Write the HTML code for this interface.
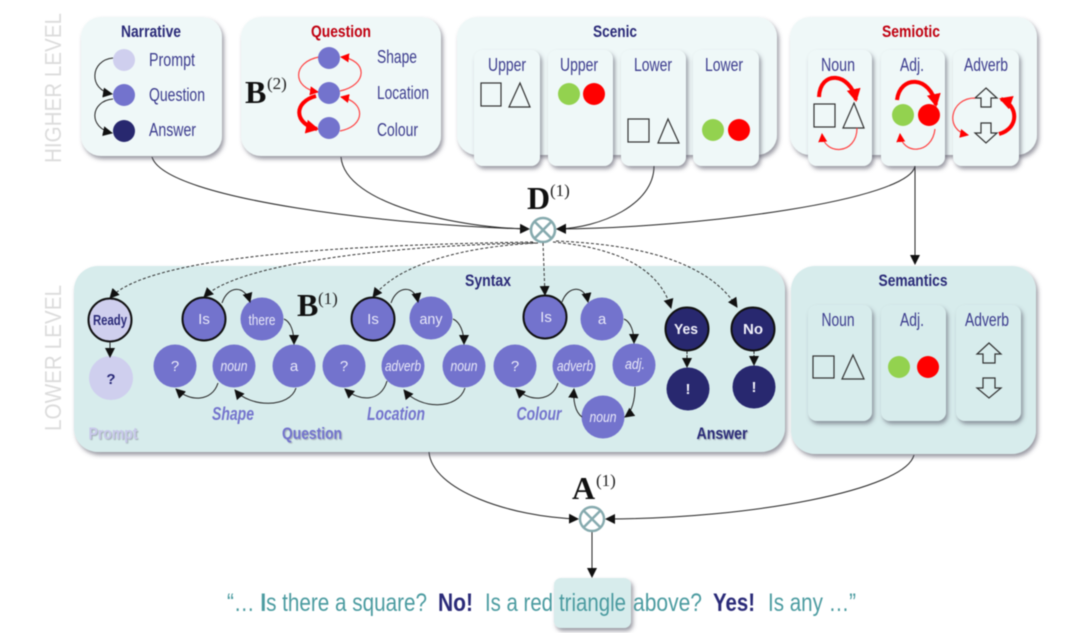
<!DOCTYPE html>
<html><head><meta charset="utf-8"><style>
html,body{margin:0;padding:0;background:#fff;overflow:hidden}
svg{display:block;filter:blur(.45px)}
text{font-family:"Liberation Sans",sans-serif;text-anchor:middle}
.h{font-weight:bold;font-size:17px;fill:#2a2a78}
.r{font-weight:bold;font-size:17px;fill:#c00010}
.l{font-size:18px;fill:#3c3c8e}
.ll{font-size:18px;fill:#3c3c8e;text-anchor:start}
.w{font-size:15px;fill:#e8e8f8}
.i{font-size:15px;fill:#e8e8f8;font-style:italic}
.s{font-weight:bold;font-style:italic;font-size:18px;fill:#7373cd}
.g{font-size:23px;fill:#dcdcdc}
.m{font-family:"Liberation Serif",serif;font-weight:bold;font-size:32px;fill:#111;text-anchor:start}
.e{font-family:"Liberation Serif",serif;font-size:17px;fill:#222;text-anchor:start}
.t{font-size:25px;fill:#4b9ba0;text-anchor:start}
.b{font-size:25px;font-weight:bold;fill:#2a2a78;text-anchor:start}
.k{fill:none;stroke:#222;stroke-width:1}
.d{fill:none;stroke:#333;stroke-width:1;stroke-dasharray:3 2}
.p{fill:#7373cd}.n{fill:#28286f}.c{fill:#cfcfee}
.o{stroke:#111;stroke-width:2}
.rt{fill:none;stroke:#f44;stroke-width:1.2}
.rb{fill:none;stroke:#f00;stroke-width:4}
.gr{fill:#93d24f}.re{fill:#f00}
</style></head><body>
<svg width="1080" height="633" viewBox="0 0 1080 633" xmlns="http://www.w3.org/2000/svg">
<defs>
<filter id="sh" x="-10%" y="-10%" width="125%" height="125%"><feDropShadow dx="2" dy="3" stdDeviation="2" flood-color="#556" flood-opacity=".6"/></filter>
<filter id="ts" x="-10%" y="-10%" width="120%" height="130%"><feDropShadow dx="1" dy="1" stdDeviation=".6" flood-color="#667" flood-opacity=".5"/></filter>
<marker id="a" markerWidth="11" markerHeight="11" refX="9" refY="5" orient="auto" markerUnits="userSpaceOnUse"><path d="M0 0L10 5L0 10Z" fill="#111"/></marker>
<marker id="ar" markerWidth="10" markerHeight="10" refX="8" refY="4.5" orient="auto" markerUnits="userSpaceOnUse"><path d="M0 0L9 4.5L0 9Z" fill="#f00"/></marker>
<marker id="ab" markerWidth="15" markerHeight="15" refX="11" refY="7" orient="auto" markerUnits="userSpaceOnUse"><path d="M0 0L13 7L0 14Z" fill="#f00"/></marker>
</defs>

<text class="g" transform="translate(61,88) rotate(-90)" textLength="150" lengthAdjust="spacingAndGlyphs">HIGHER LEVEL</text>
<text class="g" transform="translate(61,358) rotate(-90)" textLength="146" lengthAdjust="spacingAndGlyphs">LOWER LEVEL</text>

<!-- connectors top -->
<path class="k" d="M152 157C165 200 400 226 529 229" marker-end="url(#a)"/>
<path class="k" d="M341 157C345 205 460 228 529 229"/>
<path class="k" d="M654 166C654 205 600 228 557 229" marker-end="url(#a)"/>
<path class="k" d="M915 166C910 200 700 228 557 229" marker-end="url(#a)"/>
<path class="k" d="M915 166V264" marker-end="url(#a)"/>
<path class="k" d="M429 452C432 490 510 517 578 519" marker-end="url(#a)"/>
<path class="k" d="M914 455C905 490 750 519 606 519" marker-end="url(#a)"/>
<path class="k" d="M592 531V577" marker-end="url(#a)"/>

<!-- boxes -->
<g filter="url(#sh)">
<rect x="81" y="17" width="141" height="139" rx="20" fill="#eff8f8"/>
<rect x="241" y="17" width="200" height="139" rx="20" fill="#eff8f8"/>
<rect x="457" y="17" width="320" height="138" rx="20" fill="#eff8f8"/>
<rect x="790" y="17" width="247" height="138" rx="20" fill="#eff8f8"/>
</g>
<g filter="url(#sh)" fill="#eff8f8">
<rect x="474" y="50" width="66" height="116" rx="9"/>
<rect x="548" y="50" width="65" height="116" rx="9"/>
<rect x="621" y="50" width="65" height="116" rx="9"/>
<rect x="693" y="50" width="66" height="116" rx="9"/>
<rect x="808" y="50" width="64" height="116" rx="9"/>
<rect x="881" y="50" width="64" height="116" rx="9"/>
<rect x="953" y="50" width="66" height="116" rx="9"/>
</g>
<g filter="url(#sh)" fill="#d7ecec">
<rect x="74" y="266" width="711" height="186" rx="24"/>
<rect x="791" y="266" width="245" height="188" rx="24"/>
</g>
<g filter="url(#sh)" fill="#d7ecec">
<rect x="808" y="305" width="64" height="116" rx="9"/>
<rect x="881" y="305" width="65" height="116" rx="9"/>
<rect x="956" y="305" width="65" height="116" rx="9"/>
<rect x="554" y="578" width="77" height="50" rx="7"/>
</g>

<!-- titles -->
<text class="h" x="151" y="37" textLength="60" lengthAdjust="spacingAndGlyphs">Narrative</text>
<text class="r" x="341" y="37" textLength="60" lengthAdjust="spacingAndGlyphs">Question</text>
<text class="h" x="615" y="37" textLength="44" lengthAdjust="spacingAndGlyphs">Scenic</text>
<text class="r" x="911" y="37" textLength="58" lengthAdjust="spacingAndGlyphs">Semiotic</text>
<text class="h" x="488" y="286" textLength="46" lengthAdjust="spacingAndGlyphs">Syntax</text>
<text class="h" x="913" y="286" textLength="69" lengthAdjust="spacingAndGlyphs">Semantics</text>

<!-- Narrative -->
<circle class="c" cx="124" cy="60" r="11"/><circle class="p" cx="124" cy="95" r="11"/><circle class="n" cx="124" cy="131" r="11"/>
<path class="k" d="M113 58C90 60 88 90 112 94" marker-end="url(#a)"/>
<path class="k" d="M113 99C90 101 88 128 112 133" marker-end="url(#a)"/>
<text class="ll" x="149" y="66" textLength="46" lengthAdjust="spacingAndGlyphs">Prompt</text>
<text class="ll" x="149" y="101" textLength="56" lengthAdjust="spacingAndGlyphs">Question</text>
<text class="ll" x="149" y="136" textLength="47" lengthAdjust="spacingAndGlyphs">Answer</text>

<!-- Question -->
<text class="m" x="245" y="103">B</text><text class="e" x="267" y="89" font-size="18">(2)</text>
<path class="rt" d="M319 57C292 62 292 88 318 92" marker-end="url(#ar)"/>
<path class="rt" d="M340 91C368 85 368 60 341 57" marker-end="url(#ar)"/>
<path class="rt" d="M340 131C366 126 366 102 341 97" marker-end="url(#ar)"/>
<path class="rb" d="M316 96C293 102 294 124 317 129" marker-end="url(#ab)"/>
<circle class="p" cx="329" cy="58" r="11"/><circle class="p" cx="329" cy="93" r="11"/><circle class="p" cx="329" cy="128" r="11"/>
<text class="ll" x="377" y="63" textLength="40" lengthAdjust="spacingAndGlyphs">Shape</text>
<text class="ll" x="377" y="99" textLength="52" lengthAdjust="spacingAndGlyphs">Location</text>
<text class="ll" x="377" y="136" textLength="41" lengthAdjust="spacingAndGlyphs">Colour</text>

<!-- Scenic -->
<text class="l" x="507" y="71" textLength="38" lengthAdjust="spacingAndGlyphs">Upper</text>
<text class="l" x="579" y="71" textLength="38" lengthAdjust="spacingAndGlyphs">Upper</text>
<text class="l" x="653" y="71" textLength="38" lengthAdjust="spacingAndGlyphs">Lower</text>
<text class="l" x="724" y="71" textLength="38" lengthAdjust="spacingAndGlyphs">Lower</text>
<g fill="none" stroke="#333" stroke-width="1.2">
<rect x="481" y="83" width="20" height="23"/><path d="M520 83L530 107H509Z"/>
<rect x="628" y="119" width="21" height="23"/><path d="M668 119L679 143H658Z"/>
</g>
<circle class="gr" cx="569" cy="94" r="11"/><circle class="re" cx="594" cy="94" r="11"/>
<circle class="gr" cx="713" cy="130" r="11"/><circle class="re" cx="739" cy="130" r="11"/>

<!-- Semiotic -->
<text class="l" x="838" y="71" textLength="34" lengthAdjust="spacingAndGlyphs">Noun</text>
<text class="l" x="912" y="71" textLength="24" lengthAdjust="spacingAndGlyphs">Adj.</text>
<text class="l" x="986" y="71" textLength="44" lengthAdjust="spacingAndGlyphs">Adverb</text>
<g fill="none" stroke="#333" stroke-width="1.2">
<rect x="814" y="104" width="21" height="23"/><path d="M854 103L864 128H843Z"/>
<path d="M986 88L997 98H991V107H981V98H975Z" fill="#eff8f8"/>
<path d="M981 123H991V133H997L986 143L975 133H981Z" fill="#eff8f8"/>
</g>
<path class="rb" d="M819 97C820 70 850 72 856 100" marker-end="url(#ab)"/>
<path class="rt" d="M857 128C857 155 824 156 822 134" marker-end="url(#ar)"/>
<circle class="gr" cx="903" cy="115" r="11"/><circle class="re" cx="929" cy="115" r="11"/>
<path class="rb" d="M897 100C900 75 930 75 936 105" marker-end="url(#ab)"/>
<path class="rt" d="M935 129C932 155 902 155 900 134" marker-end="url(#ar)"/>
<path class="rt" d="M975 98C950 98 944 130 968 135" marker-end="url(#ar)"/>
<path class="rb" d="M999 134C1020 128 1018 105 1001 99" marker-end="url(#ab)"/>

<!-- D -->
<text class="m" x="527" y="209">D</text><text class="e" x="550" y="196">(1)</text>
<g fill="#fff" stroke="#86aaae" stroke-width="2.6"><circle cx="543" cy="230" r="12"/><path d="M535 222L551 238M551 222L535 238"/></g>

<!-- dashed -->
<path class="d" d="M533 242C350 245 150 255 110 298" marker-end="url(#a)"/>
<path class="d" d="M535 243C400 245 240 262 204 297" marker-end="url(#a)"/>
<path class="d" d="M538 243C470 246 400 262 373 297" marker-end="url(#a)"/>
<path class="d" d="M543 243L545 295" marker-end="url(#a)"/>
<path class="d" d="M553 242C620 248 660 270 671 308" marker-end="url(#a)"/>
<path class="d" d="M556 241C650 245 710 265 737 307" marker-end="url(#a)"/>

<!-- Syntax internals -->
<circle class="c o" cx="110" cy="320" r="21.5"/><circle class="c" cx="111" cy="378" r="22"/>
<path class="k" d="M110 342V357" marker-end="url(#a)"/>
<text x="110" y="325" font-size="15" font-weight="bold" fill="#2a2a78" textLength="34" lengthAdjust="spacingAndGlyphs">Ready</text>
<text x="111" y="384" font-size="15" font-weight="bold" fill="#2a2a78">?</text>

<text class="m" x="297" y="316">B</text><text class="e" x="318" y="304">(1)</text>
<g>
<circle class="p o" cx="204" cy="319" r="21.5"/><circle class="p" cx="262" cy="319" r="21.5"/>
<circle class="p" cx="294" cy="366" r="21.5"/><circle class="p" cx="234" cy="366" r="21.5"/><circle class="p" cx="175" cy="366" r="21.5"/>
<circle class="p o" cx="373" cy="319" r="21.5"/><circle class="p" cx="431" cy="318" r="21.5"/>
<circle class="p" cx="464" cy="366" r="21.5"/><circle class="p" cx="403" cy="366" r="21.5"/><circle class="p" cx="344" cy="366" r="21.5"/>
<circle class="p o" cx="545" cy="317" r="21.5"/><circle class="p" cx="602" cy="319" r="21.5"/>
<circle class="p" cx="634" cy="365" r="21.5"/><circle class="p" cx="574" cy="366" r="21.5"/><circle class="p" cx="515" cy="366" r="21.5"/><circle class="p" cx="603" cy="417" r="21.5"/>
<circle class="n o" cx="687" cy="329" r="21.5"/><circle class="n" cx="688" cy="389" r="21.5"/>
<circle class="n o" cx="753" cy="329" r="21.5"/><circle class="n" cx="754" cy="387" r="21.5"/>
</g>
<g>
<path class="k" d="M222 303C228 285 245 285 250 302" marker-end="url(#a)"/>
<path class="k" d="M284 319C291 322 294 332 294 344" marker-end="url(#a)"/>
<path class="k" d="M296 388C290 408 250 408 235 390" marker-end="url(#a)"/>
<path class="k" d="M218 383C212 402 190 402 176 389" marker-end="url(#a)"/>
<path class="k" d="M391 303C397 285 415 285 418 302" marker-end="url(#a)"/>
<path class="k" d="M453 319C460 322 464 332 464 344" marker-end="url(#a)"/>
<path class="k" d="M465 388C458 410 420 410 404 390" marker-end="url(#a)"/>
<path class="k" d="M387 381C381 402 360 402 345 389" marker-end="url(#a)"/>
<path class="k" d="M562 302C568 285 585 285 588 302" marker-end="url(#a)"/>
<path class="k" d="M624 319C631 322 634 332 634 343" marker-end="url(#a)"/>
<path class="k" d="M635 387C635 400 632 412 625 417" marker-end="url(#a)"/>
<path class="k" d="M582 417C575 412 573 400 574 389" marker-end="url(#a)"/>
<path class="k" d="M558 383C552 402 530 402 516 389" marker-end="url(#a)"/>
<path class="k" d="M687 351V367" stroke-dasharray="3 1" marker-end="url(#a)"/>
<path class="k" d="M754 351V365" stroke-dasharray="3 1" marker-end="url(#a)"/>
</g>
<text class="w" x="204" y="324">Is</text><text class="w" x="262" y="325" textLength="27" lengthAdjust="spacingAndGlyphs">there</text>
<text class="w" x="294" y="371">a</text><text class="i" x="234" y="371" textLength="27" lengthAdjust="spacingAndGlyphs">noun</text><text class="w" x="175" y="371">?</text>
<text class="w" x="373" y="324">Is</text><text class="w" x="431" y="324" textLength="23" lengthAdjust="spacingAndGlyphs">any</text>
<text class="i" x="464" y="371" textLength="27" lengthAdjust="spacingAndGlyphs">noun</text><text class="i" x="403" y="371" textLength="36" lengthAdjust="spacingAndGlyphs">adverb</text><text class="w" x="344" y="371">?</text>
<text class="w" x="546" y="322">Is</text><text class="w" x="602" y="324">a</text>
<text class="i" x="635" y="369" textLength="20" lengthAdjust="spacingAndGlyphs">adj.</text><text class="i" x="575" y="371" textLength="36" lengthAdjust="spacingAndGlyphs">adverb</text><text class="w" x="515" y="371">?</text>
<text class="i" x="603" y="422" textLength="27" lengthAdjust="spacingAndGlyphs">noun</text>
<g>
<text x="686" y="334" font-size="15" fill="#f0f0fa" font-weight="bold" textLength="24" lengthAdjust="spacingAndGlyphs">Yes</text>
<text x="753" y="334" font-size="15" fill="#f0f0fa" font-weight="bold">No</text>
<text x="688" y="394" font-size="15" fill="#f0f0fa" font-weight="bold">!</text>
<text x="754" y="392" font-size="15" fill="#f0f0fa" font-weight="bold">!</text>
</g>
<text class="s" x="233" y="420" textLength="42" lengthAdjust="spacingAndGlyphs">Shape</text>
<text class="s" x="396" y="420" textLength="58" lengthAdjust="spacingAndGlyphs">Location</text>
<text class="s" x="539" y="420" textLength="45" lengthAdjust="spacingAndGlyphs">Colour</text>
<g filter="url(#ts)">
<text x="113" y="439" font-size="17" font-weight="bold" fill="#c8c8ea" textLength="49" lengthAdjust="spacingAndGlyphs">Prompt</text>
<text x="312" y="439" font-size="17" font-weight="bold" fill="#7373cd" textLength="60" lengthAdjust="spacingAndGlyphs">Question</text>
<text x="722" y="439" font-size="17" font-weight="bold" fill="#2a2a78" textLength="51" lengthAdjust="spacingAndGlyphs">Answer</text>
</g>

<!-- Semantics -->
<text class="l" x="838" y="326" textLength="33" lengthAdjust="spacingAndGlyphs">Noun</text>
<text class="l" x="912" y="326" textLength="24" lengthAdjust="spacingAndGlyphs">Adj.</text>
<text class="l" x="987" y="326" textLength="44" lengthAdjust="spacingAndGlyphs">Adverb</text>
<g fill="none" stroke="#333" stroke-width="1.2">
<rect x="813" y="356" width="21" height="22"/><path d="M853 355L864 379H842Z"/>
<path d="M989 343L1001 354H995V363H983V354H977Z"/>
<path d="M983 378H995V388H1001L989 398L977 388H983Z"/>
</g>
<circle class="gr" cx="899" cy="367" r="11"/><circle class="re" cx="928" cy="367" r="11"/>

<!-- A -->
<text class="m" x="572" y="499">A</text><text class="e" x="596" y="486">(1)</text>
<g fill="#fff" stroke="#86aaae" stroke-width="2.4"><circle cx="592" cy="519" r="12"/><path d="M584 511L600 527M600 511L584 527"/></g>

<!-- sentence -->
<text class="t" x="227" y="611" textLength="200" lengthAdjust="spacingAndGlyphs">“… <tspan font-weight="bold">I</tspan>s there a square?</text>
<text class="b" x="438" y="611" textLength="35" lengthAdjust="spacingAndGlyphs">No!</text>
<text class="t" x="485" y="611" textLength="68" lengthAdjust="spacingAndGlyphs">Is a red</text>
<text class="t" x="559" y="611" textLength="67" lengthAdjust="spacingAndGlyphs">triangle</text>
<text class="t" x="633" y="611" textLength="69" lengthAdjust="spacingAndGlyphs">above?</text>
<text class="b" x="713" y="611" textLength="42" lengthAdjust="spacingAndGlyphs">Yes!</text>
<text class="t" x="768" y="611" textLength="88" lengthAdjust="spacingAndGlyphs">Is any …”</text>
</svg>
</body></html>
